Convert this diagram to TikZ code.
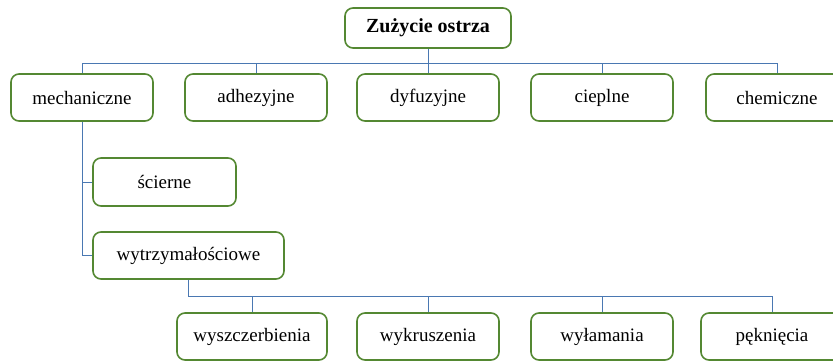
\documentclass[tikz,border=0pt]{standalone}
\usepackage{fontspec}
\setmainfont{Liberation Serif}
\definecolor{boxgreen}{RGB}{84,136,50}
\definecolor{linkblue}{RGB}{74,120,178}
\begin{document}
\begin{tikzpicture}[x=1pt,y=-1pt,
  catbox/.style={draw=boxgreen,line width=1.6pt,rounded corners=8pt,fill=white,
    minimum height=47pt,inner sep=0pt,font=\fontsize{19}{22}\selectfont},
  rootbox/.style={catbox,minimum height=40pt,font=\fontsize{20}{23}\selectfont\bfseries},
  conn/.style={draw=linkblue,line width=1pt}]
\useasboundingbox (0,0) rectangle (833,360);
\clip (0,0) rectangle (833,360);
% bus heights
\coordinate (busA) at (0,63);
\coordinate (busB) at (0,296);
% root
\node[rootbox,minimum width=166pt] (root) at (428,28) {Zużycie ostrza};
% first level
\node[catbox,minimum width=142pt] (mech) at (82,97.5) {mechaniczne};
\node[catbox,minimum width=142pt] (adh)  at (256,97.5) {adhezyjne};
\node[catbox,minimum width=142pt] (dyf)  at (428,97.5) {dyfuzyjne};
\node[catbox,minimum width=142pt] (ciep) at (602,97.5) {cieplne};
\node[catbox,minimum width=142pt] (chem) at (777,97.5) {chemiczne};
% mechanical branch
\node[catbox,minimum width=143pt,minimum height=48pt] (scie) at (164.5,182) {ścierne};
\node[catbox,minimum width=191pt] (wyt) at (188.5,255.5) {wytrzymałościowe};
% strength-related wear
\node[catbox,minimum width=150pt] (wysz) at (252,336.5) {wyszczerbienia};
\node[catbox,minimum width=142pt] (wykr) at (428,336.5) {wykruszenia};
\node[catbox,minimum width=142pt] (wyla) at (602,336.5) {wyłamania};
\node[catbox,minimum width=142pt] (pek)  at (772,336.5) {pęknięcia};
% connectors, top level
\draw[conn] (root.south) -- (root.south |- busA);
\draw[conn] (mech.north) |- (chem.north |- busA) -- (chem.north);
\draw[conn] (adh.north) -- (adh.north |- busA);
\draw[conn] (dyf.north) -- (dyf.north |- busA);
\draw[conn] (ciep.north) -- (ciep.north |- busA);
% connectors, mechanical branch
\draw[conn] (mech.south) |- (wyt.west);
\draw[conn] (mech.south |- scie.west) -- (scie.west);
% connectors, bottom level
\draw[conn] (wyt.south) |- (pek.north |- busB) -- (pek.north);
\draw[conn] (wysz.north) -- (wysz.north |- busB);
\draw[conn] (wykr.north) -- (wykr.north |- busB);
\draw[conn] (wyla.north) -- (wyla.north |- busB);
\end{tikzpicture}
\end{document}
